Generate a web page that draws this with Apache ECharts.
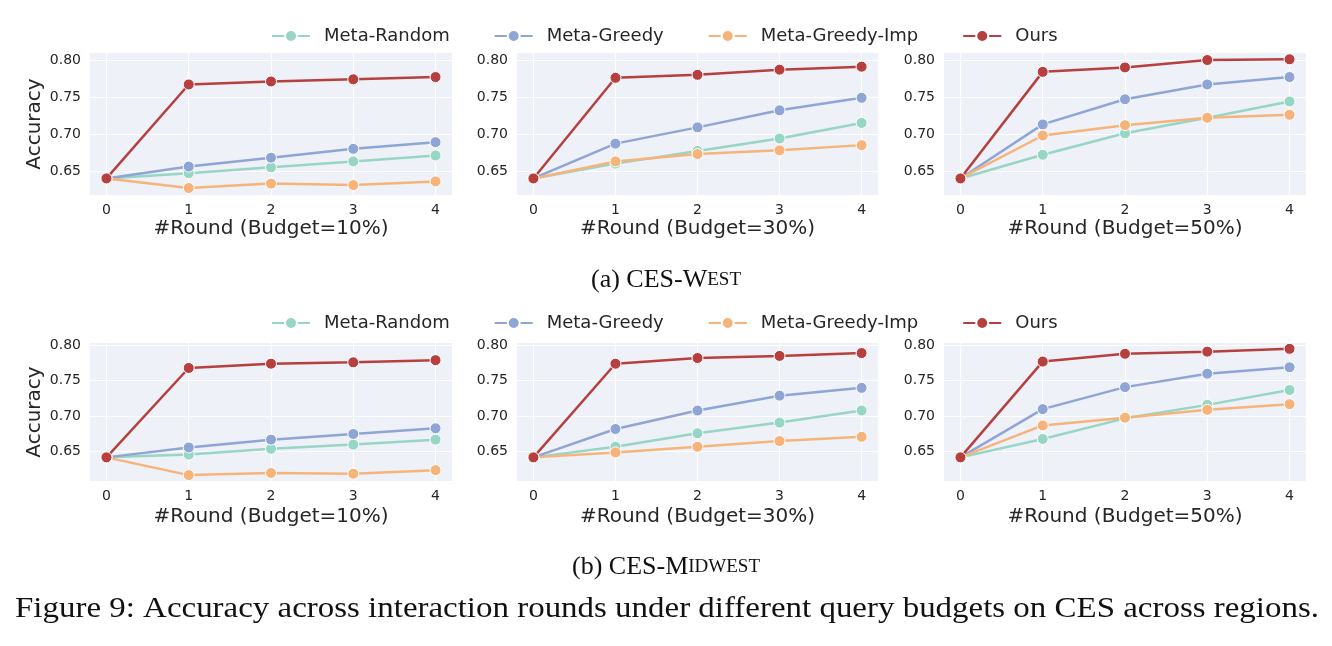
<html>
	<head>
		<meta charset = "UTF-8"/>
		<title>Accuracy across rounds</title>
		<script type = "text/javascript" src = "https://cdn.jsdelivr.net/npm/echarts@6/dist/echarts.min.js"></script>
		<style type = "text/css">
			body {
				margin: 0;
				background: #fff;
			}
			#main {
				width: 1332px;
				height: 646px;
			}
		</style>
	</head>
	<body>
		<div id = "main"></div>
		<script type = "text/javascript">

			var rounds = [0, 1, 2, 3, 4];
			var yTicks = [0.65, 0.70, 0.75, 0.80];
			var budgets = ["10%", "30%", "50%"];
			var methods = ["Meta-Random", "Meta-Greedy", "Meta-Greedy-Imp", "Ours"];

			// CES-West
			var west10_random = [0.640, 0.647, 0.655, 0.663, 0.671];
			var west10_greedy = [0.640, 0.656, 0.668, 0.680, 0.689];
			var west10_imp    = [0.640, 0.627, 0.633, 0.631, 0.636];
			var west10_ours   = [0.640, 0.767, 0.771, 0.774, 0.777];
			var west30_random = [0.640, 0.660, 0.677, 0.694, 0.715];
			var west30_greedy = [0.640, 0.687, 0.709, 0.732, 0.749];
			var west30_imp    = [0.640, 0.663, 0.673, 0.678, 0.685];
			var west30_ours   = [0.640, 0.776, 0.780, 0.787, 0.791];
			var west50_random = [0.640, 0.672, 0.701, 0.722, 0.744];
			var west50_greedy = [0.640, 0.713, 0.747, 0.767, 0.777];
			var west50_imp    = [0.640, 0.698, 0.712, 0.722, 0.726];
			var west50_ours   = [0.640, 0.784, 0.790, 0.800, 0.801];

			// CES-Midwest
			var mid10_random = [0.642, 0.646, 0.654, 0.660, 0.667];
			var mid10_greedy = [0.642, 0.656, 0.667, 0.675, 0.683];
			var mid10_imp    = [0.642, 0.617, 0.620, 0.619, 0.624];
			var mid10_ours   = [0.642, 0.768, 0.774, 0.776, 0.779];
			var mid30_random = [0.642, 0.657, 0.676, 0.691, 0.708];
			var mid30_greedy = [0.642, 0.682, 0.708, 0.729, 0.740];
			var mid30_imp    = [0.642, 0.649, 0.657, 0.665, 0.671];
			var mid30_ours   = [0.642, 0.774, 0.782, 0.785, 0.789];
			var mid50_random = [0.642, 0.668, 0.697, 0.716, 0.737];
			var mid50_greedy = [0.642, 0.710, 0.741, 0.760, 0.769];
			var mid50_imp    = [0.642, 0.687, 0.698, 0.709, 0.717];
			var mid50_ours   = [0.642, 0.777, 0.788, 0.791, 0.795];

			var panels = [
				[west10_random, west10_greedy, west10_imp, west10_ours],
				[west30_random, west30_greedy, west30_imp, west30_ours],
				[west50_random, west50_greedy, west50_imp, west50_ours],
				[mid10_random, mid10_greedy, mid10_imp, mid10_ours],
				[mid30_random, mid30_greedy, mid30_imp, mid30_ours],
				[mid50_random, mid50_greedy, mid50_imp, mid50_ours]
			];

			var colors = ["#97d5c5", "#8fa5d6", "#f6b47a", "#b5403f"];
			var lefts = [90, 517, 944];
			var widths = [362, 361, 362];
			var rowTop = [53, 343];
			var rowHeight = [142, 138];
			var rowRange = [[0.6176, 0.8095], [0.6087, 0.8032]];
			var font = "DejaVu Sans";

			var grids = [], xAxes = [], yAxes = [], series = [];
			for (var p = 0; p < 6; p++) {
				var row = Math.floor(p / 3), col = p % 3;
				grids.push({
					left: lefts[col],
					top: rowTop[row],
					width: widths[col],
					height: rowHeight[row],
					show: true,
					backgroundColor: "#eef1f7",
					borderWidth: 0
				});
				xAxes.push({
					type: "value",
					gridIndex: p,
					min: -0.2,
					max: 4.2,
					name: "#Round (Budget=" + budgets[col] + ")",
					nameLocation: "middle",
					nameGap: row === 0 ? 24 : 26,
					nameTextStyle: {fontFamily: font, fontSize: 20, color: "#262626"},
					axisLine: {show: false},
					axisTick: {show: false, customValues: rounds},
					axisLabel: {customValues: rounds, fontFamily: font, fontSize: 14, color: "#262626", margin: 8},
					splitLine: {show: true, lineStyle: {color: "#ffffff", width: 1.2}}
				});
				yAxes.push({
					type: "value",
					gridIndex: p,
					min: rowRange[row][0],
					max: rowRange[row][1],
					name: col === 0 ? "Accuracy" : "",
					nameLocation: "middle",
					nameGap: 45,
					nameTextStyle: {fontFamily: font, fontSize: 20, color: "#262626"},
					axisLine: {show: false},
					axisTick: {show: false, customValues: yTicks},
					axisLabel: {
						customValues: yTicks,
						fontFamily: font,
						fontSize: 14,
						color: "#262626",
						margin: 9,
						formatter: function (v) { return v.toFixed(2); }
					},
					splitLine: {show: true, lineStyle: {color: "#ffffff", width: 1.2}}
				});
				for (var m = 0; m < 4; m++) {
					var vals = panels[p][m];
					series.push({
						type: "line",
						name: methods[m],
						xAxisIndex: p,
						yAxisIndex: p,
						data: rounds.map(function (r, i) { return [r, vals[i]]; }),
						symbol: "circle",
						symbolSize: 11,
						color: colors[m],
						lineStyle: {width: 2.5, color: colors[m]},
						itemStyle: {color: colors[m], borderColor: "#ffffff", borderWidth: 1},
						z: 2 + m,
						animation: false
					});
				}
			}

			var legendBase = {
				data: methods,
				left: 266,
				itemWidth: 38,
				itemHeight: 15,
				itemGap: 44,
				textStyle: {fontFamily: font, fontSize: 18, color: "#262626", padding: [0, 0, 0, 9]}
			};
			var legends = [
				Object.assign({}, legendBase, {top: 22}),
				Object.assign({}, legendBase, {top: 309})
			];

			var serif = "Liberation Serif";
			var chart = echarts.init(document.getElementById("main"));
			chart.setOption({
				animation: false,
				grid: grids,
				xAxis: xAxes,
				yAxis: yAxes,
				legend: legends,
				series: series,
				graphic: [
					{
						type: "text",
						left: "center",
						top: 267,
						style: {
							text: "(a) CES-W{sc|EST}",
							font: "26px " + serif,
							fill: "#111",
							rich: {sc: {fontFamily: serif, fontSize: 19, fill: "#111"}}
						}
					},
					{
						type: "text",
						left: "center",
						top: 554,
						style: {
							text: "(b) CES-M{sc|IDWEST}",
							font: "26px " + serif,
							fill: "#111",
							rich: {sc: {fontFamily: serif, fontSize: 19, fill: "#111"}}
						}
					},
					{
						type: "text",
						x: 15,
						y: 595,
						scaleX: 1.136,
						style: {
							text: "Figure 9: Accuracy across interaction rounds under different query budgets on CES across regions.",
							font: "29px " + serif,
							fill: "#111"
						}
					}
				]
			});
		</script>
	</body>
</html>
